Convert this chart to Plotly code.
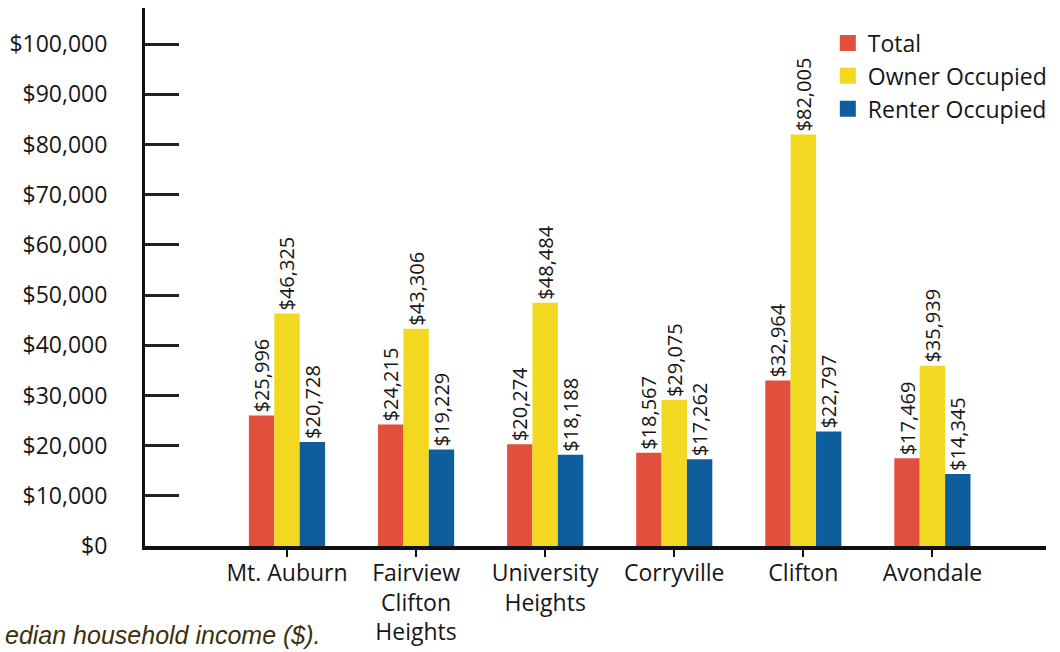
import plotly.graph_objects as go

# Median household income by neighborhood
neighborhoods = ["Mt. Auburn", "Fairview<br>Clifton<br>Heights", "University<br>Heights",
                 "Corryville", "Clifton", "Avondale"]
total = [25996, 24215, 20274, 18567, 32964, 17469]
owner_occupied = [46325, 43306, 48484, 29075, 82005, 35939]
renter_occupied = [20728, 19229, 18188, 17262, 22797, 14345]

series_names = ["Total", "Owner Occupied", "Renter Occupied"]
series_values = [total, owner_occupied, renter_occupied]
series_colors = ["#E0503C", "#F3D821", "#0E5E9E"]

y_tick_values = [0, 10000, 20000, 30000, 40000, 50000, 60000, 70000, 80000, 90000, 100000]
y_tick_labels = ["$0", "$10,000", "$20,000", "$30,000", "$40,000", "$50,000",
                 "$60,000", "$70,000", "$80,000", "$90,000", "$100,000"]

FONT = "Open Sans"
INK = "#161616"

fig = go.Figure()
xs = list(range(len(neighborhoods)))
for name, vals, color in zip(series_names, series_values, series_colors):
    fig.add_trace(go.Bar(
        x=xs, y=vals, name=name,
        marker=dict(color=color, line=dict(width=0)),
        texttemplate="$%{y:,}", textposition="outside", textangle=-90,
        textfont=dict(family=FONT, size=20, color=INK),
        constraintext="none", cliponaxis=False,
        showlegend=False,
    ))
    # square swatch for the legend
    fig.add_trace(go.Scatter(
        x=[None], y=[None], mode="markers", name=name,
        marker=dict(symbol="square", size=16, color=color),
    ))

fig.update_layout(
    width=1060, height=652,
    margin=dict(l=145, r=13, t=8, b=106),
    paper_bgcolor="white", plot_bgcolor="white",
    barmode="group", bargap=0.41, bargroupgap=0,
    font=dict(family=FONT, color=INK),
    legend=dict(x=0.757, y=0.975, xanchor="left", yanchor="top",
                font=dict(family=FONT, size=23, color=INK),
                bgcolor="rgba(0,0,0,0)", itemsizing="trace", tracegroupgap=0),
    xaxis=dict(
        range=[-1.1, 5.88], tickmode="array", tickvals=xs, ticktext=neighborhoods,
        showline=True, linecolor="#111", linewidth=4,
        ticks="outside", ticklen=7, tickwidth=2, tickcolor="#111",
        ticklabelstandoff=-4,
        tickfont=dict(family=FONT, size=23, color=INK),
        showgrid=False, zeroline=False, automargin=False,
    ),
    yaxis=dict(
        range=[0, 107200], tickmode="array", tickvals=y_tick_values, ticktext=y_tick_labels,
        showline=True, linecolor="#111", linewidth=3,
        ticks="inside", ticklen=34, tickwidth=2.5, tickcolor="#222",
        ticklabelstandoff=30,
        tickfont=dict(family=FONT, size=23, color=INK),
        showgrid=False, zeroline=False, automargin=False,
    ),
    annotations=[dict(
        text="<i>edian household income ($).</i>",
        xref="paper", yref="paper", x=(3 - 145) / 902, y=(546 - 651) / 538,
        xanchor="left", yanchor="bottom", showarrow=False,
        font=dict(family="Liberation Sans", size=25, color="#3d300c"),
    )],
)

fig.write_html("out.html")
